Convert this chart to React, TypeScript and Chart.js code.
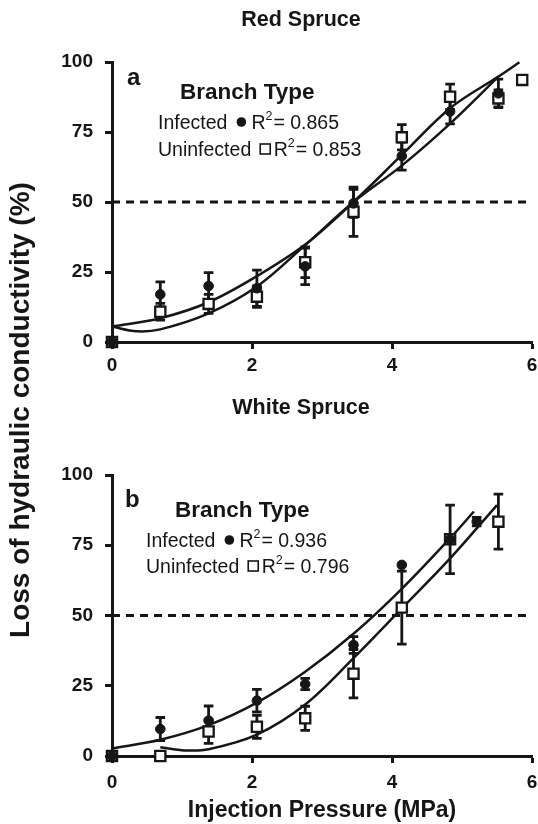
import { useEffect, useRef } from 'react';
import { Chart, registerables } from 'chart.js';

Chart.register(...registerables);

const FONT = '"Liberation Sans", Arial, Helvetica, sans-serif';
const INK = '#161616';

// ---------- shared ----------
const xTicks = [0, 2, 4, 6];
const yTicks = [0, 25, 50, 75, 100];
const refLineX = [0, 6];
const refLineY = [50, 50];
const seriesLabels = ['Infected', 'Uninfected'];
const legendTitle = 'Branch Type';
const xAxisTitle = 'Injection Pressure (MPa)';
const yAxisTitle = 'Loss of hydraulic conductivity (%)';

// ---------- panel a: Red Spruce ----------
const redTitle = 'Red Spruce';
const redLetter = 'a';
const redR2 = ['0.865', '0.853'];
const redInfX = [0, 0.69, 1.38, 2.07, 2.76, 3.45, 4.14, 4.83, 5.52];
const redInfY = [0, 17, 20, 19.2, 27, 49.5, 66.4, 82.3, 88.8];
const redInfErr = [0, 4.5, 4.8, 6.5, 6.5, 5, 5, 4.4, 5.1];
const redUnX = [0, 0.69, 1.38, 2.07, 2.76, 3.45, 4.14, 4.83, 5.52, 5.86];
const redUnY = [0, 10.8, 13.6, 16.2, 28.5, 46.5, 73.1, 87.6, 87, 93.6];
const redUnErr = [0, 3, 3.4, 3.8, 5.5, 8.8, 4.5, 4.5, 3, 0];
const redFitInfX = [0, 0.69, 1.38, 2.07, 2.76, 3.45, 4.14, 4.83, 5.52, 5.82];
const redFitInfY = [5.5, 8.5, 14.2, 23.5, 34.8, 50, 66.8, 83.5, 94.8, 99.9];
const redFitUnX = [0, 0.35, 0.69, 1.38, 2.07, 2.76, 3.45, 4.14, 4.83, 5.52];
const redFitUnY = [5.5, 3.8, 4.5, 10.2, 19.8, 34.6, 50, 63, 78, 94.8];

// ---------- panel b: White Spruce ----------
const whiteTitle = 'White Spruce';
const whiteLetter = 'b';
const whiteR2 = ['0.936', '0.796'];
const whiteInfX = [0, 0.69, 1.38, 2.07, 2.76, 3.45, 4.14, 4.83, 5.21];
const whiteInfY = [0, 9.6, 12.6, 19.7, 25.6, 39.5, 68, 77, 83.4];
const whiteInfErr = [0, 4.1, 5.2, 4, 2, 3, 0, 0, 1.5];
const whiteUnX = [0, 0.69, 1.38, 2.07, 2.76, 3.45, 4.14, 4.83, 5.52];
const whiteUnY = [0, 0, 8.7, 10.4, 13.4, 29.3, 52.8, 77.1, 83.4];
const whiteUnErr = [0, 0, 4.2, 4.1, 4.3, 8.6, 13, 12.2, 9.8];
const whiteFitInfX = [0, 0.69, 1.38, 2.07, 2.76, 3.45, 4.14, 4.83, 5.17];
const whiteFitInfY = [2.7, 5.8, 11, 19, 30, 43.5, 59.5, 77.5, 87];
const whiteFitUnX = [0.69, 1.04, 1.38, 2.07, 2.76, 3.45, 4.14, 4.83, 5.5];
const whiteFitUnY = [3.1, 2.0, 2.4, 7.6, 18.3, 34.8, 52.5, 70.3, 89.3];

const pts = (xs: number[], ys: number[]) => xs.map((x, i) => ({ x, y: ys[i] }));

const errorBarPlugin = {
  id: 'errorBars',
  beforeDatasetsDraw(chart: any) {
    const { ctx, scales } = chart;
    const xs = scales.x;
    const ys = scales.y;
    ctx.save();
    ctx.strokeStyle = INK;
    ctx.lineWidth = 2.8;
    chart.data.datasets.forEach((ds: any) => {
      if (!ds.errors) return;
      ds.data.forEach((p: any, i: number) => {
        const e = ds.errors[i];
        if (!e) return;
        const px = xs.getPixelForValue(p.x);
        const top = ys.getPixelForValue(p.y + e);
        const bot = ys.getPixelForValue(Math.max(0, p.y - e));
        ctx.beginPath();
        ctx.moveTo(px, top);
        ctx.lineTo(px, bot);
        ctx.moveTo(px - 4.8, top);
        ctx.lineTo(px + 4.8, top);
        ctx.moveTo(px - 4.8, bot);
        ctx.lineTo(px + 4.8, bot);
        ctx.stroke();
      });
    });
    ctx.restore();
  },
};

type Panel = {
  title: string;
  letter: string;
  r2: string[];
  infX: number[]; infY: number[]; infErr: number[];
  unX: number[]; unY: number[]; unErr: number[];
  fitInfX: number[]; fitInfY: number[];
  fitUnX: number[]; fitUnY: number[];
  padTop: number;
  xHeight: number;
  xTickPad: number;
  showXTitle: boolean;
  titleY: number;
  letterPos: [number, number];
  btPos: [number, number];
  legX: number;
  legY: [number, number];
};

function textPlugin(p: Panel) {
  return {
    id: 'panelText',
    afterDraw(chart: any) {
      const ctx = chart.ctx;
      ctx.save();
      ctx.fillStyle = INK;
      ctx.strokeStyle = INK;
      ctx.textBaseline = 'alphabetic';
      ctx.textAlign = 'center';
      ctx.font = `bold 21.5px ${FONT}`;
      ctx.fillText(p.title, 301, p.titleY);
      ctx.textAlign = 'left';
      ctx.font = `bold 24px ${FONT}`;
      ctx.fillText(p.letter, p.letterPos[0], p.letterPos[1]);
      ctx.font = `bold 22.5px ${FONT}`;
      ctx.fillText(legendTitle, p.btPos[0], p.btPos[1]);
      seriesLabels.forEach((lab, i) => {
        const y = p.legY[i];
        let x = p.legX;
        ctx.font = `19.5px ${FONT}`;
        ctx.fillText(lab, x, y);
        x += ctx.measureText(lab).width;
        const cy = y - 7;
        if (i === 0) {
          const cx = x + 14;
          ctx.beginPath();
          ctx.arc(cx, cy, 4.8, 0, Math.PI * 2);
          ctx.fill();
          x = cx + 10;
        } else {
          const cx = x + 14;
          ctx.lineWidth = 1.6;
          ctx.strokeRect(cx - 5, cy - 5, 10, 10);
          x = cx + 8.5;
        }
        ctx.font = `19.5px ${FONT}`;
        ctx.fillText('R', x, y);
        x += ctx.measureText('R').width;
        ctx.font = `12.5px ${FONT}`;
        ctx.fillText('2', x, y - 9);
        x += ctx.measureText('2').width + 1;
        ctx.font = `19.5px ${FONT}`;
        ctx.fillText('= ' + p.r2[i], x, y);
      });
      ctx.restore();
    },
  };
}

function buildConfig(p: Panel): any {
  const tickFont = { family: FONT, size: 19, weight: 'bold' as const };
  const fitLine = {
    showLine: true, borderColor: INK, borderWidth: 2.5, pointRadius: 0,
    tension: 0.35, fill: false, order: 2, clip: false,
  };
  return {
    type: 'scatter',
    data: {
      datasets: [
        { data: pts(p.fitInfX, p.fitInfY), ...fitLine },
        { data: pts(p.fitUnX, p.fitUnY), ...fitLine },
        {
          data: pts(refLineX, refLineY),
          showLine: true, borderColor: INK, borderWidth: 3, borderDash: [8, 6],
          pointRadius: 0, fill: false, order: 3,
        },
        {
          data: pts(p.unX, p.unY), errors: p.unErr,
          pointStyle: 'rect', pointRadius: 7.2, borderWidth: 2.3,
          borderColor: INK, backgroundColor: '#ffffff', order: 1, clip: false,
        },
        {
          data: pts(p.infX, p.infY), errors: p.infErr,
          pointStyle: 'circle', pointRadius: 4.8, borderWidth: 1,
          borderColor: INK, backgroundColor: INK, order: 0, clip: false,
        },
      ],
    },
    options: {
      animation: false,
      responsive: false,
      maintainAspectRatio: false,
      events: [],
      layout: { autoPadding: false, padding: { top: p.padTop, right: 6, left: 0, bottom: 0 } },
      plugins: {
        legend: { display: false },
        tooltip: { enabled: false },
        title: { display: false },
      },
      scales: {
        x: {
          type: 'linear', min: 0, max: 6,
          afterFit: (s: any) => {
            s.height = p.xHeight;
            s.paddingLeft = 0;
            s.paddingRight = 0;
          },
          afterBuildTicks: (s: any) => { s.ticks = xTicks.map((v) => ({ value: v })); },
          ticks: { font: tickFont, color: INK, padding: p.xTickPad },
          grid: { drawOnChartArea: false, drawTicks: true, tickLength: 7, tickWidth: 3, tickColor: INK, color: INK },
          border: { display: true, width: 3, color: INK },
          title: {
            display: p.showXTitle, text: xAxisTitle, color: INK,
            font: { family: FONT, size: 23, weight: 'bold' }, padding: 0,
          },
        },
        y: {
          type: 'linear', min: 0, max: 100,
          afterFit: (s: any) => { s.width = 112; },
          afterBuildTicks: (s: any) => { s.ticks = yTicks.map((v) => ({ value: v })); },
          ticks: { font: tickFont, color: INK, padding: 12 },
          grid: { drawOnChartArea: false, drawTicks: true, tickLength: 7, tickWidth: 3, tickColor: INK, color: INK },
          border: { display: true, width: 3, color: INK },
        },
      },
    },
    plugins: [errorBarPlugin, textPlugin(p)],
  };
}

const topPanel: Panel = {
  title: redTitle, letter: redLetter, r2: redR2,
  infX: redInfX, infY: redInfY, infErr: redInfErr,
  unX: redUnX, unY: redUnY, unErr: redUnErr,
  fitInfX: redFitInfX, fitInfY: redFitInfY, fitUnX: redFitUnX, fitUnY: redFitUnY,
  padTop: 62, xHeight: 48, xTickPad: 5, showXTitle: false,
  titleY: 26, letterPos: [127, 85], btPos: [180, 99], legX: 158, legY: [129, 156],
};

const bottomPanel: Panel = {
  title: whiteTitle, letter: whiteLetter, r2: whiteR2,
  infX: whiteInfX, infY: whiteInfY, infErr: whiteInfErr,
  unX: whiteUnX, unY: whiteUnY, unErr: whiteUnErr,
  fitInfX: whiteFitInfX, fitInfY: whiteFitInfY, fitUnX: whiteFitUnX, fitUnY: whiteFitUnY,
  padTop: 85, xHeight: 68, xTickPad: 8, showXTitle: true,
  titleY: 24, letterPos: [125, 117], btPos: [175, 127], legX: 146, legY: [157, 183],
};

function PanelChart({ panel, top, height }: { panel: Panel; top: number; height: number }) {
  const ref = useRef<HTMLCanvasElement | null>(null);
  useEffect(() => {
    if (!ref.current) return;
    const chart = new Chart(ref.current, buildConfig(panel));
    return () => chart.destroy();
  }, [panel]);
  return (
    <canvas
      ref={ref}
      width={538}
      height={height}
      style={{ position: 'absolute', left: 0, top, width: 538, height }}
    />
  );
}

export default function App() {
  return (
    <div style={{ position: 'absolute', left: 0, top: 0, width: 538, height: 824, background: '#fff', overflow: 'hidden' }}>
      <PanelChart panel={topPanel} top={0} height={390} />
      <PanelChart panel={bottomPanel} top={390} height={434} />
      <div
        style={{
          position: 'absolute', left: 20 - 300, top: 410 - 17, width: 600, height: 34,
          lineHeight: '34px', textAlign: 'center', transform: 'rotate(-90deg)',
          fontFamily: FONT, fontWeight: 'bold', fontSize: 28, color: INK, whiteSpace: 'nowrap',
        }}
      >
        {yAxisTitle}
      </div>
    </div>
  );
}
